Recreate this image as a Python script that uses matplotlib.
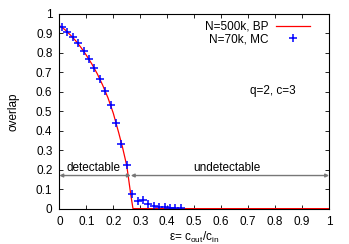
import matplotlib
matplotlib.use('Agg')
import matplotlib.pyplot as plt

plt.rcParams['font.family'] = ['Liberation Sans', 'DejaVu Sans']
plt.rcParams['font.size'] = 8.5

# BP curve (N=500k)
bp_eps = [0.0, 0.02, 0.04, 0.06, 0.08, 0.10, 0.12, 0.14, 0.16, 0.18, 0.20, 0.22,
          0.235, 0.25, 0.26, 0.265, 0.273, 1.0]
bp_overlap = [0.94, 0.92, 0.893, 0.863, 0.828, 0.788, 0.744, 0.694, 0.636, 0.57,
              0.49, 0.39, 0.31, 0.22, 0.12, 0.07, 0.0, 0.0]

# MC points (N=70k)
mc_eps = [0.01, 0.03, 0.05, 0.07, 0.09, 0.11, 0.13, 0.15, 0.17, 0.19, 0.21, 0.23,
          0.25, 0.27, 0.29, 0.31, 0.33, 0.35, 0.37, 0.39, 0.41, 0.43, 0.45]
mc_overlap = [0.935, 0.908, 0.880, 0.849, 0.812, 0.767, 0.721, 0.665, 0.606, 0.531,
              0.44, 0.334, 0.226, 0.077, 0.041, 0.043, 0.026, 0.014, 0.009, 0.007,
              0.005, 0.004, 0.003]

fig = plt.figure(figsize=(3.49, 2.44), dpi=100)
ax = fig.add_axes([0.17, 0.145, 0.773, 0.798])

ax.plot(bp_eps, bp_overlap, color='red', lw=0.9, label='N=500k, BP')
ax.plot(mc_eps, mc_overlap, ls='none', marker='+', color='blue', ms=6, mew=1.1,
        label='N=70k, MC')

# detectable / undetectable arrows
arrow_y = 0.17
ax.annotate('', xy=(0.0, arrow_y), xytext=(0.265, arrow_y),
            arrowprops=dict(arrowstyle='<|-|>', color='#777777', lw=1.0,
                            mutation_scale=5, shrinkA=0, shrinkB=0))
ax.annotate('', xy=(0.265, arrow_y), xytext=(1.0, arrow_y),
            arrowprops=dict(arrowstyle='<|-|>', color='#777777', lw=1.0,
                            mutation_scale=5, shrinkA=0, shrinkB=0))
ax.text(0.125, arrow_y + 0.008, 'detectable', ha='center', va='bottom')
ax.text(0.62, arrow_y + 0.008, 'undetectable', ha='center', va='bottom')
ax.text(0.79, 0.606, 'q=2, c=3', ha='center', va='center')

ax.set_xlim(0, 1)
ax.set_ylim(0, 1)
ax.set_xticks([i / 10 for i in range(11)])
ax.set_yticks([i / 10 for i in range(11)])
ax.set_xticklabels(['0', '0.1', '0.2', '0.3', '0.4', '0.5', '0.6', '0.7', '0.8', '0.9', '1'])
ax.set_yticklabels(['0', '0.1', '0.2', '0.3', '0.4', '0.5', '0.6', '0.7', '0.8', '0.9', '1'])
ax.tick_params(direction='in', top=True, right=True, length=3, width=0.6, pad=5)
for s in ax.spines.values():
    s.set_linewidth(0.8)

ax.set_xlabel(r'$\mathregular{\varepsilon}$= c$_\mathregular{out}$/c$_\mathregular{in}$', labelpad=2)
ax.set_ylabel('overlap', labelpad=12)

ax.legend(loc='upper right', bbox_to_anchor=(0.955, 1.0), frameon=False,
          markerfirst=False, handlelength=2.9, borderaxespad=0.2,
          labelspacing=0.05, handletextpad=0.6)

fig.savefig('out.png', dpi=100)
